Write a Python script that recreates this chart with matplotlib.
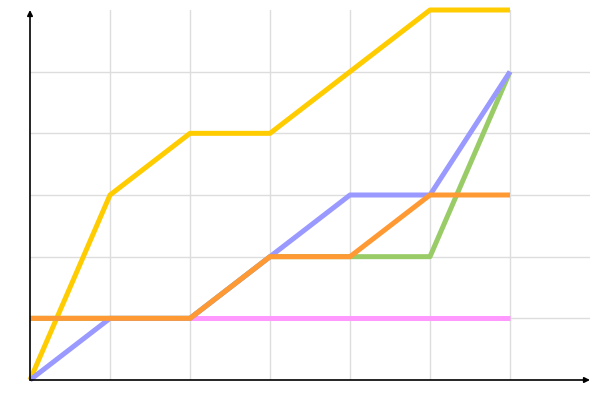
import matplotlib.pyplot as plt

x = [0, 1, 2, 3, 4, 5, 6]
yellow = [0, 3, 4, 4, 5, 6, 6]
blue = [0, 1, 1, 2, 3, 3, 5]
green = [1, 1, 1, 2, 2, 2, 5]
orange = [1, 1, 1, 2, 2, 3, 3]
pink = [1, 1, 1, 1, 1, 1, 1]

fig = plt.figure(figsize=(6, 4), dpi=100)
ax = fig.add_axes([30 / 600, 20 / 400, 560 / 600, 370 / 400])
ax.set_xlim(0, 7)
ax.set_ylim(0, 6)

ax.set_xticks([1, 2, 3, 4, 5, 6])
ax.set_yticks([1, 2, 3, 4, 5])
ax.tick_params(length=0, labelbottom=False, labelleft=False)
ax.grid(True, color="#dddddd", linewidth=1)
ax.set_axisbelow(True)
for s in ax.spines.values():
    s.set_visible(False)

# series, bottom to top
for y, c in [(pink, "#FF99FF"), (yellow, "#FFCC00"), (green, "#99CC66"),
             (blue, "#9999FF"), (orange, "#FF9933")]:
    ax.plot(x, y, color=c, linewidth=3.6, solid_capstyle="butt", clip_on=False)

# axes with arrows
arrow = dict(arrowstyle="-|>", color="black", linewidth=1.2,
             mutation_scale=8, shrinkA=0, shrinkB=0)
ax.annotate("", xy=(7, 0), xytext=(0, 0), arrowprops=arrow, annotation_clip=False)
ax.annotate("", xy=(0, 6), xytext=(0, 0), arrowprops=arrow, annotation_clip=False)

fig.savefig("out.png", dpi=100)
